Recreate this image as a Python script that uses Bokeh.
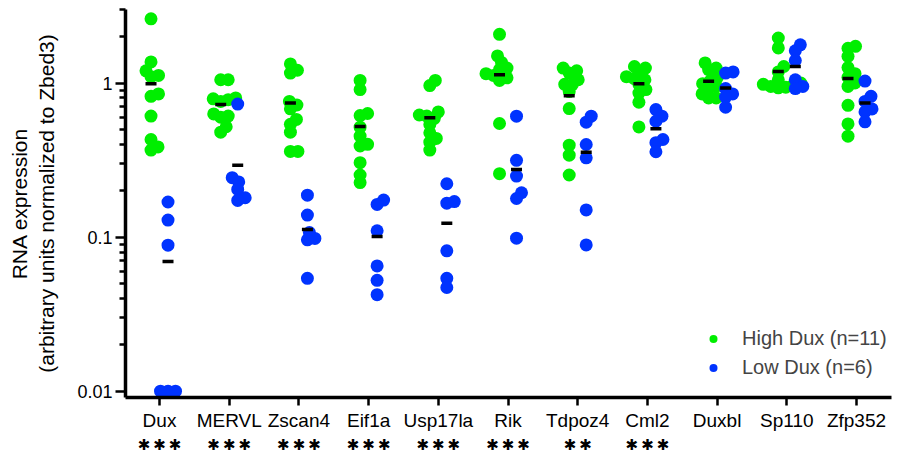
import numpy as np
from bokeh.plotting import figure
from bokeh.models import (FixedTicker, ColumnDataSource, Legend, LinearAxis,
                          LegendItem, CustomJSTickFormatter, Range1d)
from bokeh.embed import file_html
from bokeh.resources import INLINE

# ---------------- data ----------------
genes = ["Dux", "MERVL", "Zscan4", "Eif1a", "Usp17la", "Rik", "Tdpoz4", "Cml2",
         "Duxbl", "Sp110", "Zfp352"]
significance = [3, 3, 3, 3, 3, 3, 2, 3, 0, 0, 0]   # number of stars under each gene

high_values = [
    [2.61, 1.37, 1.20, 1.12, 1.10, 0.85, 0.82, 0.61, 0.43, 0.385, 0.367],      # Dux
    [1.05, 1.05, 0.80, 0.79, 0.78, 0.76, 0.63, 0.61, 0.60, 0.52, 0.48],        # MERVL
    [1.33, 1.21, 1.16, 0.76, 0.72, 0.68, 0.58, 0.54, 0.48, 0.36, 0.36],        # Zscan4
    [1.04, 0.906, 0.634, 0.615, 0.517, 0.452, 0.40, 0.39, 0.304, 0.253, 0.226],  # Eif1a
    [1.04, 0.962, 0.649, 0.62, 0.61, 0.59, 0.538, 0.475, 0.437, 0.413, 0.367],  # Usp17la
    [2.07, 1.50, 1.36, 1.25, 1.22, 1.15, 1.12, 1.08, 1.04, 0.546, 0.258],      # Rik
    [1.25, 1.20, 1.16, 1.05, 0.98, 0.976, 0.88, 0.683, 0.395, 0.34, 0.253],    # Tdpoz4
    [1.28, 1.25, 1.17, 1.10, 1.07, 1.05, 0.98, 0.906, 0.86, 0.75, 0.519],      # Cml2
    [1.35, 1.25, 1.22, 1.08, 1.03, 0.99, 0.95, 0.92, 0.85, 0.80, 0.80],        # Duxbl
    [1.96, 1.69, 1.28, 1.18, 1.05, 1.00, 0.98, 0.97, 0.95, 0.94, 0.93],        # Sp110
    [1.73, 1.68, 1.49, 1.26, 1.15, 1.09, 1.00, 0.95, 0.717, 0.543, 0.452],     # Zfp352
]
low_values = [
    [0.169, 0.129, 0.0887, 0.01, 0.01, 0.01],      # Dux
    [0.73, 0.243, 0.228, 0.204, 0.180, 0.173],     # MERVL
    [0.187, 0.139, 0.107, 0.098, 0.096, 0.054],    # Zscan4
    [0.174, 0.163, 0.110, 0.065, 0.0524, 0.0423],  # Eif1a
    [0.222, 0.17, 0.166, 0.0814, 0.054, 0.0471],   # Usp17la
    [0.609, 0.315, 0.249, 0.194, 0.178, 0.0984],   # Rik
    [0.609, 0.557, 0.399, 0.327, 0.15, 0.089],     # Tdpoz4
    [0.672, 0.609, 0.565, 0.43, 0.41, 0.358],      # Cml2
    [1.18, 1.16, 0.92, 0.85, 0.81, 0.696],         # Duxbl
    [1.77, 1.62, 1.40, 1.05, 0.95, 0.92],          # Sp110
    [1.03, 0.82, 0.76, 0.679, 0.649, 0.56],        # Zfp352
]
high_means = [0.99, 0.725, 0.743, 0.522, 0.594, 1.13, 0.828, 0.99, 1.025, 1.19, 1.07]
low_means = [0.0694, 0.293, 0.112, 0.101, 0.123, 0.275, 0.356, 0.504, 0.928, 1.28, 0.743]

y_ticks = [0.01, 0.1, 1]
y_minor = [0.02, 0.03, 0.04, 0.05, 0.06, 0.07, 0.08, 0.09,
           0.2, 0.3, 0.4, 0.5, 0.6, 0.7, 0.8, 0.9, 2, 3]

# ---------------- layout constants ----------------
FRAME_W, FRAME_H = 766, 388
X_LO, X_HI = -0.488, 10.502
Y_LO, Y_HI = 0.0091, 3.0
PX_PER_CAT = FRAME_W / (X_HI - X_LO)
PX_PER_DEC = FRAME_H / (np.log10(Y_HI) - np.log10(Y_LO))
GROUP_SHIFT = 8.5 / PX_PER_CAT
GREEN = "#00EE00"
BLUE = "#0033FF"
FONT = "Liberation Sans"
DOT = 13
STAR = "\u2731"
THIN = "\u2009"


def swarm_offsets(vals, dmin=7.5):
    """Beeswarm placement in pixel space (converted to category units)."""
    ys = np.log10(np.asarray(vals, dtype=float)) * PX_PER_DEC
    order = np.argsort(ys)
    cands = [0.0] + [s * k * 0.5 for k in range(1, 120) for s in (1, -1)]
    placed = []
    offs = np.zeros(len(vals))
    for i in order:
        for c in cands:
            if all((c - px) ** 2 + (ys[i] - py) ** 2 >= dmin ** 2 for px, py in placed):
                offs[i] = c
                placed.append((c, ys[i]))
                break
    return offs / PX_PER_CAT


def build(values, shift):
    xs, ys = [], []
    for gi, vals in enumerate(values):
        offs = swarm_offsets(vals)
        for v, o in zip(vals, offs):
            xs.append(gi + shift + o)
            ys.append(v)
    return ColumnDataSource(dict(x=xs, y=ys))


src_high = build(high_values, -GROUP_SHIFT)
src_low = build(low_values, GROUP_SHIFT)
src_hm = ColumnDataSource(dict(x=[i - GROUP_SHIFT for i in range(len(genes))], y=high_means))
src_lm = ColumnDataSource(dict(x=[i + GROUP_SHIFT for i in range(len(genes))], y=low_means))

p = figure(frame_width=FRAME_W, frame_height=FRAME_H,
           x_range=Range1d(X_LO, X_HI), y_range=Range1d(Y_LO, Y_HI),
           y_axis_type="log", output_backend="svg", toolbar_location=None,
           min_border_top=9, min_border_right=2, min_border_left=125, min_border_bottom=62)
p.outline_line_color = None
p.grid.visible = False
p.background_fill_color = "white"

r_high = p.scatter("x", "y", source=src_high, size=DOT, color=GREEN, line_color=None)
r_low = p.scatter("x", "y", source=src_low, size=DOT, color=BLUE, line_color=None)
p.scatter("x", "y", source=src_hm, marker="dash", size=11, line_color="black", line_width=3.5)
p.scatter("x", "y", source=src_lm, marker="dash", size=11, line_color="black", line_width=3.5)

# x axis (gene names)
xa = p.xaxis[0]
xa.ticker = FixedTicker(ticks=list(range(len(genes))))
xa.major_label_overrides = {i: g for i, g in enumerate(genes)}
xa.minor_tick_line_color = None
xa.axis_line_width = 3.5
xa.major_tick_line_width = 2.5
xa.major_tick_out = 8
xa.major_tick_in = 0
xa.major_label_standoff = 4
xa.major_label_text_font = FONT
xa.major_label_text_font_size = "19px"
xa.major_label_text_color = "black"

# second row below: significance stars
star_axis = LinearAxis(ticker=FixedTicker(ticks=list(range(len(genes)))),
                       major_label_overrides={i: THIN.join([STAR] * n)
                                              for i, n in enumerate(significance)},
                       axis_line_color=None, major_tick_line_color=None,
                       minor_tick_line_color=None, major_label_standoff=-4,
                       major_label_text_font="DejaVu Sans",
                       major_label_text_font_size="15px",
                       major_label_text_color="black")
p.add_layout(star_axis, "below")

# y axis
ya = p.yaxis[0]
ya.ticker = FixedTicker(ticks=y_ticks, minor_ticks=y_minor)
ya.formatter = CustomJSTickFormatter(code="return tick.toString();")
ya.axis_line_width = 3.5
ya.major_tick_line_width = 2.5
ya.minor_tick_line_width = 2.5
ya.major_tick_out = 10
ya.major_tick_in = 0
ya.minor_tick_out = 6
ya.minor_tick_in = 0
ya.major_label_standoff = 3
ya.major_label_text_font = FONT
ya.major_label_text_font_size = "18px"
ya.major_label_text_color = "black"
ya.axis_label = "RNA expression\n(arbitrary units normalized to Zbed3)"
ya.axis_label_text_font = FONT
ya.axis_label_text_font_size = "21px"
ya.axis_label_text_font_style = "normal"
ya.axis_label_text_color = "black"
ya.axis_label_standoff = 16

legend = Legend(items=[LegendItem(label="High Dux (n=11)", renderers=[r_high]),
                       LegendItem(label="Low Dux (n=6)", renderers=[r_low])],
                location=(578, 18), padding=0, margin=0, spacing=6,
                glyph_width=20, glyph_height=23, label_height=23, label_standoff=19,
                label_text_font=FONT, label_text_font_size="20px",
                border_line_color=None, background_fill_alpha=0)
p.add_layout(legend)

open("out.html", "w").write(file_html(p, INLINE))
